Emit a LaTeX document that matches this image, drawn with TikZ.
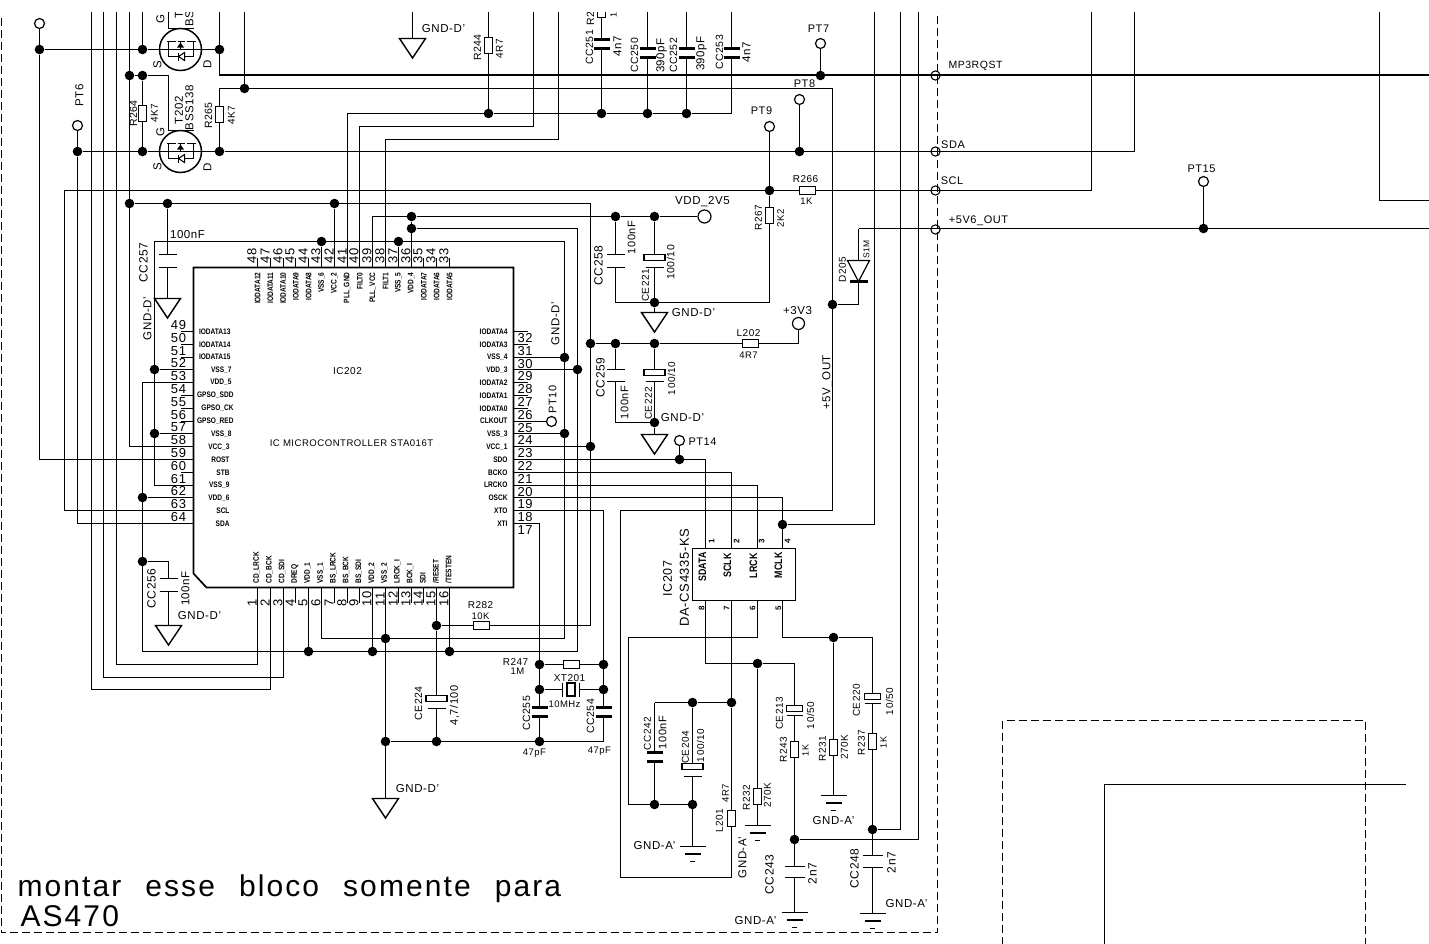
\documentclass[tikz,border=0pt]{standalone}
\usepackage{fontspec}
\setmainfont{Liberation Sans}[LetterSpace=5]
\newfontfamily\nmfont[FakeStretch=0.82]{Liberation Sans}
\newfontfamily\notefont[LetterSpace=7,WordSpace=2.3]{Liberation Sans}
\newcounter{tn}
\newcounter{rn}
\tikzset{
 wire/.style={line width=1.5pt,line join=miter},
 thickwire/.style={line width=1.6pt},
 dashline/.style={line width=1.3pt,dash pattern=on 8pt off 4pt},
 jn/.style={circle,fill=black,inner sep=0pt,minimum size=9.6pt},
 tpt/.style={circle,draw,fill=white,line width=1.2pt,inner sep=0pt,minimum size=10pt},
 txt/.style={inner sep=0pt,outer sep=0pt},
 resb/.style={rectangle,draw,fill=white,line width=1.4pt,inner sep=0pt},
 pinname/.style={txt,font=\nmfont\bfseries\fontsize{8}{8}\selectfont},
 pinnum/.style={txt,font=\fontsize{13}{13}\selectfont},
}
% text: size, rotation, anchor, x, y, text
\newcommand\Tx[6]{\stepcounter{tn}\node[txt,rotate=#2,anchor=#3,font=\fontsize{#1}{#1}\selectfont] (t\thetn) at (#4,#5) {#6};}
\newcommand\Jn[3]{\node[jn] (#1) at (#2,#3) {};}
\newcommand\RV[3]{\stepcounter{rn}\node[resb,minimum width=8pt,minimum height=16pt] (r\thern) at (#1,#2) {};}
\newcommand\RH[2]{\stepcounter{rn}\node[resb,minimum width=16pt,minimum height=8pt] (r\thern) at (#1,#2) {};}
% x, y1, y2, half width, line width
\newcommand\CapV[5]{\fill[white] (#1-#4,#2) rectangle (#1+#4,#3);\draw[line width=#5] (#1-#4,#2)--(#1+#4,#2) (#1-#4,#3)--(#1+#4,#3);}
% x, y rect, y plate, half width rect, half width plate
\newcommand\PCapV[5]{\fill[white] (#1-#5,#2) rectangle (#1+#5,#3);\draw[line width=1.4pt] (#1-#5,#3)--(#1+#5,#3);\stepcounter{rn}\node[resb,minimum width={2*#4},minimum height=5.5pt] (r\thern) at (#1,#2) {};}
\newcommand\GndD[2]{\draw[line width=1.4pt,line join=miter] (#1-13,#2)--(#1+13,#2)--(#1,#2+19.5)--cycle;}
\newcommand\GndA[2]{\draw[line width=1.4pt] (#1-13,#2)--(#1+13,#2) (#1-8,#2+7.5)--(#1+8,#2+7.5) (#1-2.5,#2+15)--(#1+2.5,#2+15);}
\newcommand\Mosf[2]{%
 \draw[wire] (#1,#2) circle[radius=21];
 \draw[wire] (#1-12,#2-21)--(#1+13,#2-21);
 \draw[line width=1.8pt] (#1-14,#2-8)--(#1-5,#2-8) (#1-3,#2-8)--(#1+4,#2-8) (#1+6,#2-8)--(#1+15,#2-8);
 \draw[wire] (#1-12,#2-8)--(#1-12,#2+7)--(#1+13,#2+7)--(#1+13,#2-8) (#1,#2-8)--(#1,#2);
 \fill (#1-3.5,#2-2)--(#1+3.5,#2-2)--(#1,#2-7)--cycle;
 \draw[line width=1pt,fill=white] (#1+4,#2+3)--(#1+4,#2+11)--(#1-2,#2+7)--cycle;
 \draw[line width=1.2pt] (#1-2,#2+3)--(#1-2,#2+11);}
\begin{document}
\begin{tikzpicture}[x=1pt,y=-1pt]
\useasboundingbox (0,0) rectangle (1429,943);
\fill[white] (0,0) rectangle (1429,943);
\begin{scope}
\clip (0,12) rectangle (1429,943);
\begin{scope}[shift={(0.5,0.5)}]
% ---------- pins of IC202 ----------
\foreach \n in {33,...,48}{\pgfmathsetmacro\px{round(257+12.8*(48-\n))}\coordinate (P\n) at (\px,267);
 \draw[wire] (P\n)--++(0,-10);
 \stepcounter{tn}\node[pinnum,rotate=90,anchor=south west] (t\thetn) at (\px-1,263) {\n};}
\foreach \n in {49,...,64}{\pgfmathsetmacro\py{round(331+12.8*(\n-49))}\coordinate (P\n) at (193,\py);
 \draw[wire] (P\n)--++(-13,0);
 \stepcounter{tn}\node[pinnum,anchor=south east] (t\thetn) at (185.5,\py-1.5) {\n};}
\foreach \n in {17,...,32}{\pgfmathsetmacro\py{round(331+12.8*(32-\n))}\coordinate (P\n) at (513,\py);
 \draw[wire] (P\n)--++(14,0);
 \stepcounter{tn}\node[pinnum,anchor=north west] (t\thetn) at (517,\py+2) {\n};}
\foreach \n in {1,...,16}{\pgfmathsetmacro\px{round(257+12.8*(\n-1))}\coordinate (P\n) at (\px,587);
 \draw[wire] (P\n)--++(0,15);
 \stepcounter{tn}\node[pinnum,rotate=90,anchor=south west] (t\thetn) at (\px-1,606) {\n};}
\coordinate (Q1) at (705,548);\coordinate (Q2) at (731,548);\coordinate (Q3) at (757,548);\coordinate (Q4) at (782,548);
\coordinate (Q8) at (705,600);\coordinate (Q7) at (731,600);\coordinate (Q6) at (757,600);\coordinate (Q5) at (782,600);
% ---------- junctions ----------
\Jn{a1}{39}{49}\Jn{a2}{142}{49}\Jn{a3}{219}{49}\Jn{a4}{129}{75}\Jn{a5}{142}{75}\Jn{a6}{244}{88}
\Jn{a7}{77}{151}\Jn{a8}{142}{151}\Jn{a9}{219}{151}\Jn{b1}{129}{203}\Jn{b2}{167}{203}\Jn{b3}{334}{203}
\Jn{b4}{411}{216}\Jn{b5}{411}{228}\Jn{b6}{321}{241}\Jn{b7}{398}{241}\Jn{b8}{154}{369}\Jn{b9}{154}{433}
\Jn{c1}{142}{497}\Jn{c2}{142}{561}\Jn{c3}{488}{113}\Jn{c4}{601}{113}\Jn{c5}{647}{113}\Jn{c6}{686}{113}
\Jn{c7}{820}{75}\Jn{c8}{799}{151}\Jn{c9}{769}{190}\Jn{e1}{615}{216}\Jn{e2}{654}{216}\Jn{e3}{654}{302}
\Jn{e4}{564}{357}\Jn{e5}{577}{369}\Jn{e6}{564}{433}\Jn{e7}{590}{343}\Jn{e8}{590}{446}\Jn{e9}{615}{343}
\Jn{f1}{654}{343}\Jn{f2}{654}{422}\Jn{f3}{679}{459}\Jn{f4}{832}{304}\Jn{f5}{782}{524}
\Jn{f6}{308}{651}\Jn{f7}{372}{651}\Jn{f8}{449}{651}\Jn{f9}{385}{638}\Jn{g1}{385}{741}\Jn{g2}{436}{625}\Jn{g3}{436}{741}
\Jn{g4}{539}{664}\Jn{g5}{539}{689}\Jn{g6}{539}{741}\Jn{g7}{603}{664}\Jn{g8}{603}{689}
\Jn{h1}{757}{663}\Jn{h2}{833}{637}\Jn{h3}{731}{702}\Jn{h4}{692}{702}\Jn{h5}{654}{804}\Jn{h6}{692}{804}
\Jn{h7}{794}{839}\Jn{h8}{872}{829}\Jn{h9}{1203}{228}
% ---------- test points ----------
\node[tpt] (tp1) at (39,23) {};\node[tpt] (tp6) at (77,125) {};\node[tpt] (tp7) at (820,43) {};
\node[tpt] (tp8) at (799,99) {};\node[tpt] (tp9) at (769,126) {};\node[tpt] (tp10) at (551,421) {};
\node[tpt] (tp14) at (679,440) {};\node[tpt] (tp15) at (1203,181) {};
\node[tpt,minimum size=13pt] (vdd) at (704,216) {};\node[tpt,minimum size=12pt] (v33) at (798,323) {};
% ---------- wires ----------
\draw[wire] (tp1)--(a1);\draw[wire] (a1)|-(P59);
\draw[wire] (a1)--(a2)--(a3);
\draw[wire] (91,11)--(91,689)-|(P2);
\draw[wire] (103,11)--(103,677)-|(P3);
\draw[wire] (116,11)--(116,664)-|(P1);
\draw[wire] (129,11)|-(P58);
\draw[wire] (142,11)--(a2);
\draw[wire] (a4)--(a5)--(168,75)--(168,130);
\draw[wire] (168,11)--(168,28);
\draw[wire] (a5)--(a8);
\draw[wire] (a7)--(a8)--(a9);
\draw[wire] (219,11)--(219,75);
\draw[thickwire] (219,74.5)--(1430,74.5);
\draw[wire] (244,11)--(a6);
\draw[wire] (a9)--(219,88)--(832,88)--(832,510)--(620,510)--(620,877)--(731,877)--(h3);
\draw[wire] (h3)--(Q7);
\draw[wire] (tp6)--(a7);\draw[wire] (a7)|-(P64);
\draw[wire] (a9)--(1134,151)--(1134,11);
\draw[wire] (P63)-|(64,190)--(1091,190)--(1091,11);
\draw[wire] (b1)--(590,203)--(590,625)--(g2);
\draw[wire] (P39)|-(b4);
\draw[wire] (b4)--(e1)--(e2)--(vdd);
\draw[wire] (P36)--(b4);
\draw[wire] (b5)--(577,228)--(577,651)--(142,651)|-(P53);
\draw[wire] (c1)--(P62);
\draw[wire] (c2)--(168,561)--(168,625);
\draw[wire] (P61)-|(154,241)--(564,241)--(564,638)-|(P6);
\draw[wire] (b6)--(P43);\draw[wire] (b7)--(P37);\draw[wire] (b3)--(P42);
\draw[wire] (b8)--(P52);\draw[wire] (b9)--(P57);
\draw[wire] (b2)--(167,298);
\draw[wire] (P41)|-(c3);\draw[wire] (c3)--(c4)--(c5)--(c6)--(731,113)--(731,11);
\draw[wire] (P40)|-(533,126)--(533,11);
\draw[wire] (P38)|-(558,139)--(558,11);
\draw[wire] (488,11)--(c3);\draw[wire] (601,11)--(c4);\draw[wire] (647,11)--(c5);\draw[wire] (686,11)--(c6);
\draw[wire] (412,11)--(412,38);
\draw[wire] (tp7)--(c7);\draw[wire] (tp8)--(c8);\draw[wire] (tp9)--(c9);
\draw[wire] (c9)--(769,302)--(615,302)--(e1);
\draw[wire] (e2)--(e3)--(654,312);
\draw[wire] (858,228)--(1430,228);
\draw[wire] (858,228)--(858,304)--(f4);
\draw[wire] (tp15)--(h9);
\draw[wire] (P30)--(e4);\draw[wire] (P29)--(e5);\draw[wire] (P25)--(tp10);\draw[wire] (P24)--(e6);\draw[wire] (P23)--(e8);
\draw[wire] (P22)-|(Q1);\draw[wire] (P21)-|(Q2);\draw[wire] (P20)-|(Q3);\draw[wire] (P19)-|(Q4);
\draw[wire] (P18)-|(603,741)--(g1);
\draw[wire] (P17)-|(g6);
\draw[wire] (P11)--(385,798);
\draw[wire] (e7)--(e9)--(f1)--(798,343)--(v33);
\draw[wire] (e9)--(615,422)--(f2);
\draw[wire] (f1)--(f2)--(654,434);
\draw[wire] (tp14)--(f3);
\draw[wire] (f5)--(874,524)--(874,11);
\draw[wire] (900,11)--(900,829)--(h8);
\draw[wire] (918,11)--(918,839)--(h7);
\draw[wire] (Q8)--(705,663)--(h1)--(794,663)--(794,912);
\draw[wire] (h1)--(757,825);
\draw[wire] (Q6)--(757,637)--(628,637)--(628,804)--(h5)--(h6);
\draw[wire] (654,702)--(h4)--(h3);\draw[wire] (654,702)--(h5);
\draw[wire] (h4)--(692,846);
\draw[wire] (Q5)--(782,637)--(h2)--(872,637)--(872,913);
\draw[wire] (h2)--(833,795);
\draw[wire] (P5)--(f6);\draw[wire] (P10)--(f7);\draw[wire] (P16)--(f8);
\draw[wire] (P15)--(g2);\draw[wire] (g2)--(g3);
\draw[wire] (g4)--(g7);\draw[wire] (g5)--(g8);
% ---------- dashed frames and plain wires ----------
\draw[dashline] (1,17)--(1,932)--(937,932)--(937,11);
\draw[dashline] (1002,944)--(1002,720)--(1365,720)--(1365,944);
\draw[wire] (1104,944)--(1104,784)--(1405,784);
\draw[wire] (1379,11)--(1379,200)--(1430,200);
\foreach \yy in {75,151,190,229}{\draw[line width=1.1pt] (935,\yy) circle[radius=4.6];}
% ---------- IC202 outline ----------
\draw[line width=1.7pt,line join=miter] (193,267)--(513,267)--(513,587)--(206,587)--(193,573)--cycle;
% ---------- IC207 ----------
\draw[line width=1.7pt] (692,548) rectangle (795,600);
% ---------- MOSFETs ----------
\Mosf{180}{49}\Mosf{180}{151}
% ---------- resistors ----------
\RV{142}{113}{}\RV{219}{114}{}\RV{488}{45}{}\RV{601}{9}{}\RV{769}{215}{}
\RV{794}{749}{}\RV{833}{747}{}\RV{872}{741}{}\RV{757}{796}{}\RV{731}{818}{}
\RH{807}{190}\RH{750}{343}\RH{481}{625}\RH{571}{664}
% ---------- capacitors ----------
\CapV{167}{254}{267}{9}{1.4pt}
\CapV{168}{578}{591}{9}{1.4pt}
\CapV{601}{39}{48}{8}{2.4pt}
\CapV{647}{48}{57}{8}{2.4pt}
\CapV{686}{48}{57}{8}{2.4pt}
\CapV{731}{48}{57}{8}{2.4pt}
\CapV{615}{254}{267}{9}{1.4pt}
\CapV{615}{369}{381}{9}{1.4pt}
\CapV{539}{707}{716}{8}{2.4pt}
\CapV{603}{707}{716}{8}{2.4pt}
\CapV{654}{752}{761}{8}{2.4pt}
\CapV{794}{866}{877}{10}{1.4pt}
\CapV{872}{855}{867}{10}{1.4pt}
\PCapV{654}{257}{267}{10.5}{9}
\PCapV{654}{372}{381}{10.5}{9}
\PCapV{436}{698}{708}{10.5}{9}
\PCapV{692}{766}{776}{10.5}{9}
\PCapV{794}{708}{715}{8}{8}
\PCapV{872}{696}{703}{8}{8}
% crystal
\fill[white] (562,682) rectangle (579,696);
\draw[line width=1.4pt] (562,682)--(562,696) (579,682)--(579,696);
\node[resb,minimum width=8pt,minimum height=13pt] (xt) at (570.5,689) {};
% diode
\fill[white] (847,260) rectangle (869,281);
\draw[line width=1.2pt,line join=miter] (847,260)--(869,260)--(858,281)--cycle;
\draw[line width=2.4pt] (849,281)--(867,281);
% ---------- grounds ----------
\GndD{412}{38}\GndD{167}{298}\GndD{654}{312}\GndD{654}{434}\GndD{168}{625}\GndD{385}{798}
\GndA{692}{846}\GndA{757}{825}\GndA{833}{795}\GndA{794}{912}\GndA{872}{913}
% ---------- IC202 pin names ----------
\foreach \s [count=\i from 0] in {IODATA12,IODATA11,IODATA10,IODATA9,IODATA8,VSS\_6,VCC\_2,PLL\_GND,FILT0,PLL\_VCC,FILT1,VSS\_5,VDD\_4,IODATA7,IODATA6,IODATA5}{
 \stepcounter{tn}\node[pinname,rotate=90,anchor=east] (t\thetn) at (257+12.8*\i,272) {\s};}
\foreach \s/\xr [count=\i from 0] in {IODATA13/230,IODATA14/230,IODATA15/230,VSS\_7/231,VDD\_5/231,GPSO\_SDD/233,GPSO\_CK/233,GPSO\_RED/233,VSS\_8/231,VCC\_3/229,ROST/229,STB/229,VSS\_9/229,VDD\_6/229,SCL/229,SDA/229}{
 \stepcounter{tn}\node[pinname,anchor=east] (t\thetn) at (\xr,331+12.8*\i) {\s};}
\foreach \s [count=\i from 0] in {IODATA4,IODATA3,VSS\_4,VDD\_3,IODATA2,IODATA1,IODATA0,CLKOUT,VSS\_3,VCC\_1,SDO,BCKO,LRCKO,OSCK,XTO,XTI}{
 \stepcounter{tn}\node[pinname,anchor=east] (t\thetn) at (507,331+12.8*\i) {\s};}
\foreach \s [count=\i from 0] in {CD\_LRCK,CD\_BCK,CD\_SDI,DREQ,VDD\_1,VSS\_1,BS\_LRCK,BS\_BCK,BS\_SDI,VDD\_2,VSS\_2,LRCK\_I,BCK\_I,SDI,/RESET,/TESTEN}{
 \stepcounter{tn}\node[pinname,rotate=90,anchor=west] (t\thetn) at (256+12.8*\i,583) {\s};}
\Tx{10}{0}{center}{347}{371}{IC202}
\Tx{9.6}{0}{center}{351}{443}{IC MICROCONTROLLER STA016T}
% ---------- IC207 texts ----------
\foreach \s/\xx/\yy in {SDATA/702/552,SCLK/727/553,LRCK/753/553,MCLK/778/552}{
 \stepcounter{tn}\node[txt,font=\nmfont\bfseries\fontsize{10.8}{10.8}\selectfont,rotate=90,anchor=east] (t\thetn) at (\xx,\yy) {\s};}
\foreach \s/\xx/\yy in {1/711/541,2/736/541,3/761/541,4/787/541,8/701/608,7/726/608,6/752/608,5/778/608}{
 \stepcounter{tn}\node[txt,font=\bfseries\fontsize{8}{8}\selectfont,rotate=90] (t\thetn) at (\xx,\yy) {\s};}
\Tx{12.5}{90}{center}{667}{578}{IC207}
\Tx{13}{90}{center}{684}{577}{DA-CS4335-KS}
% ---------- GND labels ----------
\Tx{11.5}{0}{center}{443}{28}{GND-D'}
\Tx{11.5}{0}{center}{693}{312}{GND-D'}
\Tx{11.5}{0}{center}{682}{417}{GND-D'}
\Tx{11.5}{0}{center}{199}{615}{GND-D'}
\Tx{11.5}{0}{center}{417}{788}{GND-D'}
\Tx{11.5}{90}{center}{147}{318}{GND-D'}
\Tx{11.5}{90}{center}{555}{323}{GND-D'}
\Tx{11.5}{0}{center}{654}{845}{GND-A'}
\Tx{11.5}{0}{center}{833}{820}{GND-A'}
\Tx{11.5}{90}{center}{742}{857}{GND-A'}
\Tx{11.5}{0}{center}{755}{920}{GND-A'}
\Tx{11.5}{0}{center}{906}{903}{GND-A'}
% ---------- MOSFET labels ----------
\Tx{11.5}{90}{center}{160}{19}{G}\Tx{11.5}{90}{center}{160}{132}{G}
\Tx{11.5}{90}{center}{157}{64}{S}\Tx{11.5}{90}{center}{157}{166}{S}
\Tx{11.5}{90}{center}{207}{64}{D}\Tx{11.5}{90}{center}{207}{167}{D}
\Tx{11.5}{90}{west}{178.5}{18}{T}
\Tx{11.5}{90}{west}{189}{26}{BS}
\Tx{11.5}{90}{center}{178.5}{110}{T202}
\Tx{11.5}{90}{center}{189}{107}{BSS138}
\Tx{10.5}{90}{center}{133}{113}{R264}\Tx{10}{90}{center}{154}{113}{4K7}
\Tx{10.5}{90}{center}{208}{115}{R265}\Tx{10}{90}{center}{231}{115}{4K7}
\Tx{11.5}{90}{center}{79}{95}{PT6}
\Tx{12}{90}{center}{143}{262}{CC257}
\Tx{11.5}{0}{center}{187}{234}{100nF}
% ---------- top caps ----------
\Tx{10.5}{90}{center}{477}{47}{R244}\Tx{10}{90}{center}{499}{48}{4R7}
\Tx{10.5}{90}{west}{590}{25}{R2}\Tx{9}{90}{west}{613}{17}{1}
\Tx{10.5}{90}{center}{589}{47}{CC251}\Tx{11.5}{90}{center}{617}{46}{4n7}
\Tx{10.5}{90}{center}{634}{55}{CC250}\Tx{11.5}{90}{center}{661}{55}{390pF}
\Tx{10.5}{90}{center}{673}{55}{CC252}\Tx{11.5}{90}{center}{701}{53}{390pF}
\Tx{10.5}{90}{center}{719}{52}{CC253}\Tx{11.5}{90}{center}{746}{52}{4n7}
\Tx{11}{0}{center}{818}{28}{PT7}\Tx{11}{0}{center}{804}{83}{PT8}\Tx{11}{0}{center}{761}{110}{PT9}
\Tx{11}{0}{center}{1201}{168}{PT15}\Tx{11}{0}{center}{702}{441}{PT14}
\Tx{11}{90}{center}{552}{399}{PT10}
\Tx{10}{0}{center}{805}{179}{R266}\Tx{9.5}{0}{center}{806}{201}{1K}
\Tx{10}{90}{center}{758}{217}{R267}\Tx{9.5}{90}{center}{780}{218}{2K2}
\Tx{11.5}{0}{center}{702}{201}{VDD\_2V5}
\Tx{12}{90}{center}{598}{265}{CC258}\Tx{11}{90}{center}{631}{237}{100nF}
\Tx{10.5}{90}{center}{670}{262}{100/10}\Tx{10}{90}{center}{645}{285}{CE221}
\Tx{10}{90}{center}{842}{269}{D205}\Tx{8.5}{90}{center}{866}{249}{S1M}
\Tx{10.5}{0}{center}{975}{65}{MP3RQST}\Tx{11}{0}{center}{952.5}{144}{SDA}\Tx{11}{0}{center}{951.5}{180}{SCL}\Tx{11}{0}{center}{978}{220}{+5V6\_OUT}
\Tx{11.5}{0}{center}{797}{310}{+3V3}
\Tx{10}{0}{center}{748}{333}{L202}\Tx{9.5}{0}{center}{748}{355}{4R7}
\Tx{12}{90}{center}{600}{377}{CC259}\Tx{11}{90}{center}{624}{402}{100nF}
\Tx{10}{90}{center}{671}{378}{100/10}\Tx{10}{90}{center}{648}{403}{CE222}
\Tx{11.5}{90}{center}{827}{382}{+5V\_OUT}
% ---------- left and bottom caps ----------
\Tx{12}{90}{center}{151}{588}{CC256}\Tx{11.5}{90}{center}{185}{588}{100nF}
\Tx{10}{0}{center}{480}{605}{R282}\Tx{9.5}{0}{center}{480}{616}{10K}
\Tx{10}{0}{center}{515}{661}{R247}\Tx{9.5}{0}{center}{517}{671}{1M}
\Tx{10}{0}{center}{569}{678}{XT201}\Tx{9.5}{0}{center}{564}{704}{10MHz}
\Tx{10.5}{90}{center}{526}{713}{CC255}\Tx{10.5}{90}{center}{590}{716}{CC254}
\Tx{9.5}{0}{center}{534}{753}{47pF}\Tx{9.5}{0}{center}{599}{751}{47pF}
\Tx{10.5}{90}{center}{418}{703}{CE224}\Tx{11}{90}{center}{454}{705}{4,7/100}
% ---------- analog section labels ----------
\Tx{10}{90}{center}{647}{733}{CC242}\Tx{11}{90}{center}{662}{732}{100nF}
\Tx{10}{90}{center}{685}{747}{CE204}\Tx{10}{90}{center}{700}{745}{100/10}
\Tx{10}{90}{center}{719}{820}{L201}\Tx{9.5}{90}{center}{725}{793}{4R7}
\Tx{10}{90}{center}{746}{797}{R232}\Tx{10}{90}{center}{767}{795}{270K}
\Tx{10}{90}{center}{779}{713}{CE213}\Tx{10}{90}{center}{810}{715}{10/50}
\Tx{10}{90}{center}{783}{749}{R243}\Tx{9}{90}{center}{805}{750}{1K}
\Tx{10}{90}{center}{822}{748}{R231}\Tx{10}{90}{center}{844}{747}{270K}
\Tx{10}{90}{center}{856}{700}{CE220}\Tx{10}{90}{center}{889}{701}{10/50}
\Tx{10}{90}{center}{861}{742}{R237}\Tx{9}{90}{center}{883}{742}{1K}
\Tx{12}{90}{center}{769}{874}{CC243}\Tx{12}{90}{center}{812}{873}{2n7}
\Tx{12}{90}{center}{854}{868}{CC248}\Tx{12}{90}{center}{891}{862}{2n7}
% ---------- note ----------
\node[txt,anchor=base west,font=\notefont\fontsize{30}{30}\selectfont] (note1) at (17,896) {montar esse bloco somente para};
\node[txt,anchor=base west,font=\notefont\fontsize{30}{30}\selectfont] (note2) at (20,926) {AS470};
\end{scope}
\end{scope}
\end{tikzpicture}
\end{document}
